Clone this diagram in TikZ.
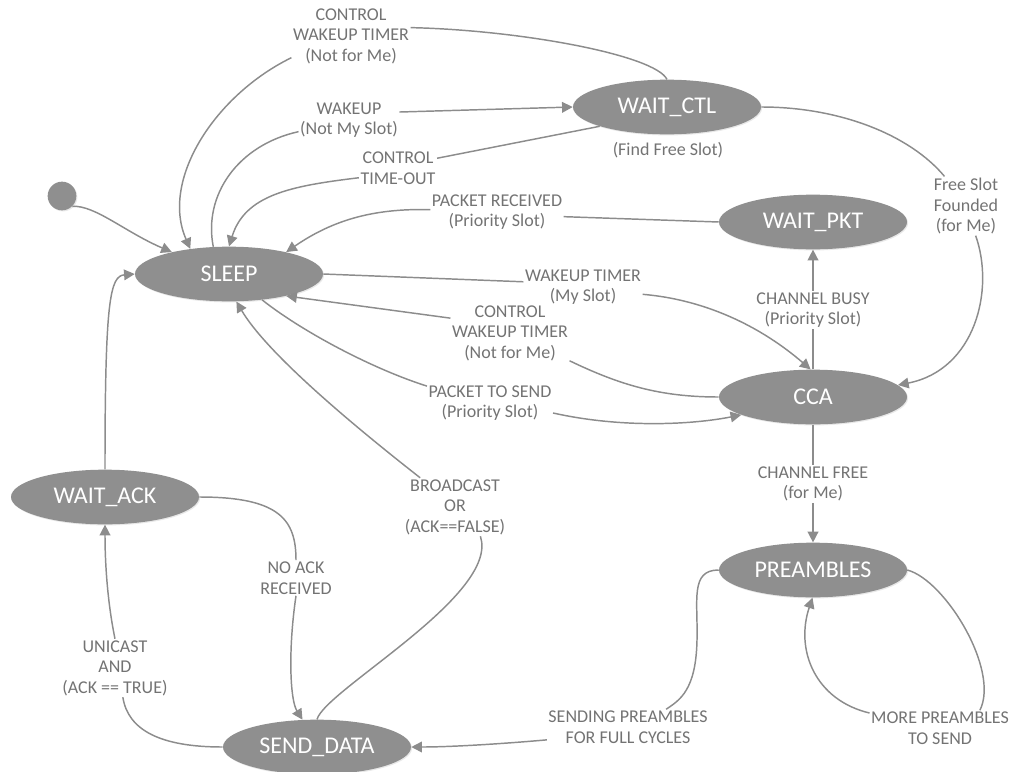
\documentclass[tikz,border=0pt]{standalone}
\usepackage{fontspec}
\setmainfont{Carlito}
\usetikzlibrary{arrows.meta,shapes.geometric,shadows}
\definecolor{stategray}{RGB}{143,143,143}
\definecolor{linegray}{RGB}{140,140,140}
\definecolor{textgray}{RGB}{115,115,115}
\begin{document}
\begin{tikzpicture}[x=0.75pt,y=-0.75pt,
  state/.style={ellipse, fill=stategray, draw=none, text=white, inner sep=0pt,
    minimum width=141pt, minimum height=41pt, font=\fontsize{18}{20}\selectfont,
    drop shadow={opacity=0.18, shadow xshift=0.8pt, shadow yshift=-0.8pt}},
  initdot/.style={circle, fill=stategray, draw=none, inner sep=0pt, minimum size=21.5pt,
    drop shadow={opacity=0.18, shadow xshift=0.8pt, shadow yshift=-0.8pt}},
  lbl/.style={text=textgray, font=\fontsize{13.5}{15.4}\selectfont, align=center, inner sep=1pt},
  conn/.style={draw=linegray, line width=1.1pt},
  arr/.style={-{Triangle[length=8pt,width=8pt]}}
]
\path[use as bounding box] (0,0) rectangle (1013,771);

% states
\node[initdot] (init) at (62,196) {};
\node[state] (sleep) at (229,274) {SLEEP};
\node[state] (waitctl) at (667,107) {WAIT\_CTL};
\node[state] (waitpkt) at (813,222) {WAIT\_PKT};
\node[state] (cca) at (813,397) {CCA};
\node[state] (pre) at (813,570) {PREAMBLES};
\node[state] (waitack) at (105,497) {WAIT\_ACK};
\node[state] (send) at (317,747) {SEND\_DATA};

% labels
\node[lbl] (find) at (668,150) {(Find Free Slot)};
\node[lbl] (l2) at (351,36) {CONTROL\\WAKEUP TIMER\\(Not for Me)};
\node[lbl] (l3) at (349,120) {WAKEUP\\(Not My Slot)};
\node[lbl] (l4) at (398,168) {CONTROL\\TIME-OUT};
\node[lbl] (l5) at (497,212) {PACKET RECEIVED\\(Priority Slot)};
\node[lbl] (l6) at (583,287) {WAKEUP TIMER\\(My Slot)};
\node[lbl] (l7) at (510,333) {CONTROL\\WAKEUP TIMER\\(Not for Me)};
\node[lbl] (l8) at (490,403) {PACKET TO SEND\\(Priority Slot)};
\node[lbl] (l9) at (455,507) {BROADCAST\\OR\\(ACK==FALSE)};
\node[lbl] (l11) at (296,578) {NO ACK\\RECEIVED};
\node[lbl] (l12) at (115,668) {UNICAST\\AND\\(ACK == TRUE)};
\node[lbl] (l13) at (966,206) {Free Slot\\Founded\\(for Me)};
\node[lbl] (l14) at (813,310) {CHANNEL BUSY\\(Priority Slot)};
\node[lbl] (l15) at (813,484) {CHANNEL FREE\\(for Me)};
\node[lbl] (l16) at (628,727) {SENDING PREAMBLES\\FOR FULL CYCLES};
\node[lbl] (l17) at (940,728) {MORE PREAMBLES\\TO SEND};

% connectors
\draw[conn,arr] (init.-45) .. controls (95,205) and (125,232) .. (sleep.159);

\draw[conn] (waitctl.north) .. controls (655,55) and (520,30) .. (l2.8);
\draw[conn,arr] (l2.200) .. controls (215,95) and (160,180) .. (sleep.147);

\draw[conn] (sleep.120) .. controls (203,195) and (238,145) .. (l3.193);
\draw[conn,arr] (l3.9) -- (waitctl.west);

\draw[conn] (waitctl.-164) -- (l4.14);
\draw[conn,arr] (l4.194) .. controls (290,186) and (245,195) .. (sleep.north);

\draw[conn] (waitpkt.west) -- (l5.-4);
\draw[conn,arr] (l5.178) .. controls (370,208) and (330,222) .. (sleep.21);

\draw[conn] (sleep.east) -- (l6.175);
\draw[conn,arr] (l6.-7) .. controls (710,300) and (765,330) .. (cca.95);

\draw[conn] (cca.west) .. controls (660,397) and (620,385) .. (l7.-25);
\draw[conn,arr] (l7.166) -- (sleep.-21);

\draw[conn] (sleep.-38) .. controls (300,330) and (370,368) .. (l8.165);
\draw[conn,arr] (l8.-9) .. controls (620,428) and (690,425) .. (cca.-166);

\draw[conn] (send.north) .. controls (325,690) and (500,595) .. (l9.-49);
\draw[conn,arr] (l9.140) .. controls (340,415) and (265,350) .. (sleep.-75);

\draw[conn,arr] (waitack.north) .. controls (105,300) and (110,276) .. (sleep.west);

\draw[conn] (waitack.east) .. controls (280,497) and (296,520) .. (l11.north);
\draw[conn,arr] (l11.south) .. controls (288,650) and (290,700) .. (send.118);

\draw[conn] (send.west) .. controls (160,747) and (128,730) .. (l12.-75);
\draw[conn,arr] (l12.north) .. controls (107,600) and (105,560) .. (waitack.south);

\draw[conn] (waitctl.east) .. controls (840,107) and (910,135) .. (l13.126);
\draw[conn,arr] (l13.-72) .. controls (995,290) and (975,370) .. (cca.8);

\draw[conn] (cca.north) -- (l14.south);
\draw[conn,arr] (l14.north) -- (waitpkt.south);

\draw[conn] (cca.south) -- (l15.north);
\draw[conn,arr] (l15.south) -- (pre.north);

\draw[conn] (pre.west) .. controls (690,570) and (698,600) .. (697,640) .. controls (696,690) and (680,700) .. (l16.25);
\draw[conn,arr] (l16.189) .. controls (500,744) and (450,747) .. (send.east);

\draw[conn] (pre.east) .. controls (945,580) and (1000,670) .. (l17.24);
\draw[conn,arr] (l17.168) .. controls (815,700) and (795,650) .. (pre.-91);
\end{tikzpicture}
\end{document}
